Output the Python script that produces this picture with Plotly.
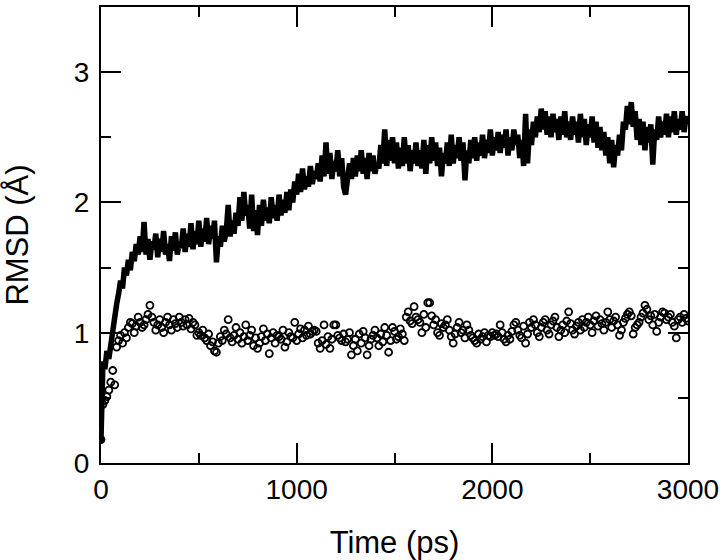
import plotly.graph_objects as go

# time axis: one sample every 10 ps, 0..3000
time_ps = list(range(0, 3001, 10))

# upper trace: RMSD (noisy, thick band)
rmsd_line = [
    0.18, 0.78, 0.72, 0.86, 0.80, 0.92, 1.02, 1.10, 1.22, 1.30,
    1.40, 1.34, 1.50, 1.44, 1.56, 1.48, 1.62, 1.55, 1.68, 1.60,
    1.74, 1.62, 1.85, 1.60, 1.72, 1.56, 1.70, 1.64, 1.76, 1.58,
    1.72, 1.62, 1.78, 1.60, 1.68, 1.55, 1.74, 1.63, 1.77, 1.60,
    1.70, 1.65, 1.80, 1.62, 1.76, 1.66, 1.84, 1.64, 1.78, 1.68,
    1.86, 1.66, 1.80, 1.70, 1.88, 1.68, 1.82, 1.72, 1.86, 1.54,
    1.74, 1.66, 1.82, 1.70, 1.78, 1.98, 1.74, 1.86, 1.76, 1.92,
    1.82, 2.04, 1.86, 2.08, 1.90, 1.98, 1.80, 2.06, 1.78, 1.94,
    1.75, 1.98, 1.82, 2.02, 1.86, 1.96, 1.84, 2.04, 1.88, 1.98,
    1.86, 2.06, 1.90, 2.02, 1.92, 2.08, 1.94, 2.10, 2.00, 2.16,
    2.06, 2.22, 2.08, 2.26, 2.10, 2.20, 2.12, 2.28, 2.14, 2.24,
    2.18, 2.30, 2.16, 2.36, 2.20, 2.46, 2.22, 2.38, 2.18, 2.32,
    2.24, 2.40, 2.20, 2.34, 2.12, 2.06, 2.22, 2.30, 2.18, 2.34,
    2.20, 2.36, 2.24, 2.40, 2.22, 2.34, 2.18, 2.38, 2.24, 2.36,
    2.22, 2.30, 2.26, 2.44, 2.30, 2.56, 2.28, 2.48, 2.32, 2.50,
    2.30, 2.46, 2.26, 2.42, 2.28, 2.50, 2.30, 2.44, 2.24, 2.40,
    2.30, 2.46, 2.28, 2.40, 2.26, 2.48, 2.22, 2.44, 2.30, 2.50,
    2.32, 2.46, 2.28, 2.42, 2.20, 2.38, 2.30, 2.46, 2.28, 2.52,
    2.30, 2.44, 2.34, 2.50, 2.32, 2.46, 2.17, 2.40, 2.30, 2.48,
    2.34, 2.50, 2.32, 2.46, 2.36, 2.52, 2.34, 2.48, 2.38, 2.56,
    2.36, 2.50, 2.40, 2.54, 2.38, 2.52, 2.42, 2.56, 2.36, 2.50,
    2.40, 2.56, 2.44, 2.52, 2.34, 2.48, 2.28, 2.68, 2.30, 2.56,
    2.44, 2.62, 2.50, 2.66, 2.54, 2.72, 2.56, 2.70, 2.52, 2.66,
    2.50, 2.68, 2.54, 2.64, 2.48, 2.66, 2.52, 2.70, 2.50, 2.62,
    2.48, 2.66, 2.52, 2.62, 2.46, 2.68, 2.50, 2.64, 2.44, 2.60,
    2.50, 2.66, 2.46, 2.62, 2.42, 2.58, 2.40, 2.54, 2.36, 2.50,
    2.30, 2.48, 2.27, 2.44, 2.36, 2.52, 2.40, 2.62, 2.56, 2.74,
    2.60, 2.77, 2.58, 2.70, 2.48, 2.64, 2.44, 2.62, 2.40, 2.58,
    2.46, 2.60, 2.29, 2.56, 2.48, 2.66, 2.50, 2.62, 2.52, 2.68,
    2.50, 2.66, 2.54, 2.70, 2.52, 2.64, 2.56, 2.70, 2.54, 2.66,
    2.60,
]

# lower trace: RMSD of the second set (open circles)
rmsd_points = [
    0.18, 0.45, 0.48, 0.51, 0.56, 0.62, 0.71, 0.60, 0.89, 0.94,
    0.98, 0.92, 1.00, 0.96, 1.04, 1.08, 1.07, 1.00, 1.05, 1.12,
    1.08, 1.04, 1.06, 1.10, 1.14, 1.21, 1.12, 1.08, 1.02, 1.06,
    1.10, 1.04, 1.00, 1.08, 1.12, 1.06, 1.02, 1.10, 1.07, 1.04,
    1.12, 1.08, 1.05, 1.10, 1.06, 1.11, 1.03, 1.08, 1.06, 0.98,
    1.00, 0.98, 1.02, 0.96, 0.94, 0.99, 0.90, 0.93, 0.86, 0.85,
    0.92, 0.97, 0.94, 1.02, 0.99, 1.10, 0.96, 0.93, 0.98, 1.04,
    0.95, 1.00, 0.92, 0.97, 1.06, 0.94, 0.98, 1.02, 0.90, 0.96,
    0.88, 0.92, 0.97, 1.03, 0.94, 0.99, 0.84, 0.96, 1.00, 0.92,
    0.98, 0.97, 0.95, 1.02, 0.89, 0.93, 1.00, 0.97, 0.96, 1.08,
    0.94, 0.99, 1.03, 0.96, 1.02, 0.98, 1.05, 0.99, 1.01, 1.02,
    1.01, 0.92, 0.88, 0.94, 1.06, 0.91, 0.97, 0.88, 0.95, 1.06,
    1.06, 0.98, 0.96, 0.94, 0.99, 0.93, 0.95, 1.00, 0.83, 0.90,
    0.95, 0.86, 0.99, 0.92, 1.01, 0.96, 0.83, 0.90, 0.95, 0.98,
    1.02, 0.96, 0.90, 0.99, 0.93, 1.04, 0.98, 0.85, 0.94, 1.04,
    1.01, 0.95, 0.97, 1.03, 0.99, 0.94, 1.12, 1.16, 1.09, 1.07,
    1.20, 1.12, 1.10, 1.08, 1.00, 1.14, 1.04, 1.23, 1.23, 1.13,
    1.06, 1.10, 1.00, 0.98, 1.07, 1.04, 1.06, 1.10, 1.02, 0.97,
    0.92, 0.99, 1.04, 1.08, 1.00, 1.02, 0.96, 1.06, 1.02, 0.98,
    0.96, 0.94, 0.92, 0.99, 0.95, 0.97, 1.00, 0.93, 0.98, 0.97,
    1.00, 0.98, 0.99, 0.97, 1.06, 1.00, 0.95, 0.93, 0.98, 0.95,
    1.01, 1.06, 1.08, 1.02, 0.98, 0.96, 1.05, 0.92, 0.99, 1.08,
    1.04, 1.10, 1.06, 1.00, 0.97, 1.04, 1.08, 1.10, 1.02, 0.99,
    1.06, 1.09, 1.12, 1.04, 0.97, 1.02, 1.06, 1.00, 1.09, 1.16,
    1.07, 1.02, 0.99, 1.05, 1.08, 1.02, 1.10, 1.04, 1.08, 1.12,
    1.06, 1.00, 1.09, 1.13, 1.05, 1.10, 1.07, 1.02, 1.08, 1.16,
    1.10, 1.04, 1.09, 1.12, 1.06, 0.98, 1.02, 1.08, 1.11, 1.14,
    1.16, 1.13, 0.99, 1.04, 1.06, 1.08, 1.12, 1.15, 1.21, 1.18,
    1.10, 1.13, 1.06, 1.14, 1.01, 1.08, 1.12, 1.16, 1.15, 1.10,
    1.12, 1.14, 1.08, 1.05, 0.96, 1.10, 1.12, 1.08, 1.14, 1.11,
    1.09,
]

x_ticks = [0, 1000, 2000, 3000]
y_ticks = [0, 1, 2, 3]

FONT = "Arial, Liberation Sans, Helvetica, sans-serif"

fig = go.Figure()

fig.add_trace(go.Scatter(
    x=time_ps, y=rmsd_line, mode="lines",
    line=dict(color="black", width=5.5),
    showlegend=False,
))

symbols = ["circle"] + ["circle-open"] * (len(rmsd_points) - 1)
fig.add_trace(go.Scatter(
    x=time_ps, y=rmsd_points, mode="markers",
    marker=dict(symbol=symbols, size=7, color="black",
                line=dict(color="black", width=1.8)),
    showlegend=False,
))

axis_common = dict(
    showline=True, linecolor="black", linewidth=2, automargin=False,
    mirror="ticks", ticks="inside", ticklen=20, tickwidth=2, tickcolor="black",
    showgrid=False, zeroline=False,
    tickfont=dict(family=FONT, size=28, color="black"),
)

fig.update_xaxes(
    range=[0, 3000], tickvals=x_ticks,
    minor=dict(dtick=500, ticks="inside", ticklen=10, tickwidth=2, tickcolor="black"),
    title=dict(text="Time (ps)", font=dict(family=FONT, size=31, color="black"), standoff=31),
    **axis_common,
)
fig.update_yaxes(
    range=[0, 3.5], tickvals=y_ticks,
    minor=dict(dtick=0.5, ticks="inside", ticklen=10, tickwidth=2, tickcolor="black"),
    title=dict(text="RMSD (Å)", font=dict(family=FONT, size=31, color="black"), standoff=36),
    ticklabelstandoff=4,
    **axis_common,
)

fig.update_layout(
    width=720, height=560,
    margin=dict(l=101, r=32, t=7, b=97),
    paper_bgcolor="white", plot_bgcolor="white",
    font=dict(family=FONT, color="black"),
)

# drop the default page margin/scrollbars so the figure fills the window
fig.write_html(
    "out.html",
    config={"displayModeBar": False},
    post_script="document.body.style.margin='0';document.documentElement.style.overflow='hidden';",
)
